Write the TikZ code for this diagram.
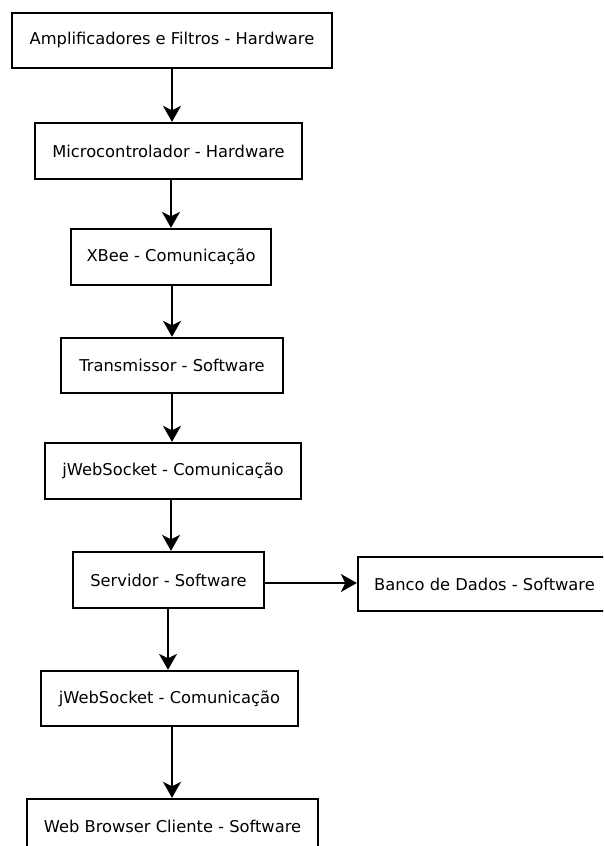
\documentclass[tikz,border=0pt]{standalone}
\usepackage{fontspec}
\setmainfont{DejaVu Sans}
\usetikzlibrary{arrows.meta}
\begin{document}
\begin{tikzpicture}[x=1pt,y=-1pt,
  box/.style={draw=black,line width=2.3pt,fill=white,minimum height=#1,inner sep=0pt,
    font=\fontsize{16.3}{18}\selectfont},
  box/.default={55pt},
  arr/.style={line width=2.3pt,-{Stealth[length=16pt,width=18pt,inset=4.5pt]}}]
\fill[white] (0,0) rectangle (603,846);
\clip (0,0) rectangle (603,846);
\node[box,minimum width=320pt] (b1) at (172,40.5) {Amplificadores e Filtros - Hardware};
\node[box=56pt,minimum width=267pt] (b2) at (168.5,151) {Microcontrolador - Hardware};
\node[box=56pt,minimum width=200pt] (b3) at (171,257) {XBee - Comunicação};
\node[box,minimum width=222pt] (b4) at (172,365.5) {Transmissor - Software};
\node[box=56pt,minimum width=256pt] (b5) at (173,471) {jWebSocket - Comunicação};
\node[box=56pt,minimum width=191pt] (b6) at (168.5,580) {Servidor - Software};
\node[box=54pt,minimum width=253pt] (bd) at (484.5,584) {Banco de Dados - Software};
\node[box,minimum width=257pt] (b7) at (169.5,698.5) {jWebSocket - Comunicação};
\node[box,minimum width=291pt] (b8) at (172.5,826.5) {Web Browser Cliente - Software};
\draw[arr] (b1.south) -- (b1.south |- b2.north);
\draw[arr] (b2.south) ++(2.5,0) coordinate (c2) -- (c2 |- b3.north);
\draw[arr] (b3.south) ++(1,0) coordinate (c3) -- (c3 |- b4.north);
\draw[arr] (b4.south) -- (b4.south |- b5.north);
\draw[arr] (b5.south) ++(-2,0) coordinate (c5) -- (c5 |- b6.north);
\draw[arr] (b6.east) ++(0,3) coordinate (c6) -- (c6 -| bd.west);
\draw[arr] (b6.south) ++(-0.5,0) coordinate (c6b) -- (c6b |- b7.north);
\draw[arr] (b7.south) ++(2.5,0) coordinate (c7) -- (c7 |- b8.north);
\end{tikzpicture}
\end{document}
